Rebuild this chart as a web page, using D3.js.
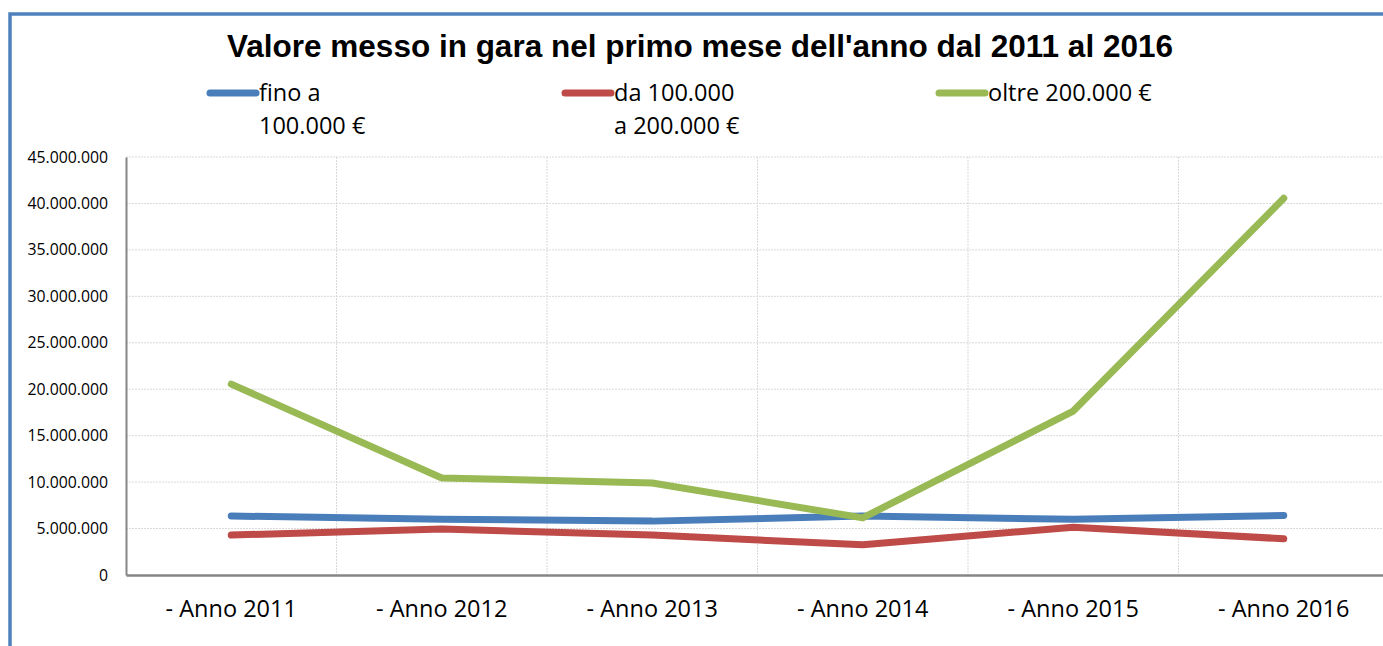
<!DOCTYPE html>
<html>
<head>
<meta charset="utf-8">
<script src="https://cdn.jsdelivr.net/npm/d3@7"></script>
<style>
  html, body { margin: 0; padding: 0; background: #fff; overflow: hidden; }
  svg { display: block; }
</style>
</head>
<body>
<svg id="chart" width="1383" height="646"></svg>
<script>
// ---- Data ----
const categories = ["- Anno 2011", "- Anno 2012", "- Anno 2013", "- Anno 2014", "- Anno 2015", "- Anno 2016"];
const finoA100 = [6350000, 6000000, 5800000, 6350000, 6000000, 6400000];
const da100a200 = [4300000, 4950000, 4300000, 3250000, 5150000, 3900000];
const oltre200 = [20550000, 10450000, 9900000, 6150000, 17650000, 40550000];
const yTicks = [0, 5000000, 10000000, 15000000, 20000000, 25000000, 30000000, 35000000, 40000000, 45000000];

const series = [
  { name: ["fino a", "100.000 €"], values: finoA100, color: "#4A7EBB", lx: 208 },
  { name: ["da 100.000", "a 200.000 €"], values: da100a200, color: "#BE4B48", lx: 563 },
  { name: ["oltre 200.000 €"], values: oltre200, color: "#98B954", lx: 937 },
];

const svg = d3.select("#chart");
const W = 1383, H = 646;
const plot = { left: 126, right: 1389, top: 157, bottom: 575 };

// ---- Chart border (runs off the right/bottom edge) ----
svg.append("rect")
  .attr("x", 10).attr("y", 14)
  .attr("width", 1400).attr("height", 700)
  .attr("fill", "none")
  .attr("stroke", "#4F81BD")
  .attr("stroke-width", 3.5);

// ---- Title ----
svg.append("text")
  .attr("x", 700).attr("y", 57)
  .attr("text-anchor", "middle")
  .attr("font-family", "'Liberation Sans', Arial, sans-serif")
  .attr("font-weight", "bold")
  .attr("font-size", 31.5)
  .text("Valore messo in gara nel primo mese dell'anno dal 2011 al 2016");

// ---- Scales ----
const x = d3.scaleBand()
  .domain(categories)
  .range([plot.left, plot.right]);

const y = d3.scaleLinear()
  .domain([0, 45000000])
  .range([plot.bottom, plot.top]);

const fmt = v => d3.format(",")(v).replace(/,/g, ".");

// ---- Gridlines ----
const g = svg.append("g");
g.selectAll("line.hgrid")
  .data(yTicks.filter(d => d > 0))
  .join("line")
  .attr("class", "hgrid")
  .attr("x1", plot.left).attr("x2", W)
  .attr("y1", d => y(d)).attr("y2", d => y(d))
  .attr("stroke", "#D9D9D9")
  .attr("stroke-width", 1)
  .attr("stroke-dasharray", "2,1");

g.selectAll("line.vgrid")
  .data(categories.slice(1))
  .join("line")
  .attr("class", "vgrid")
  .attr("x1", d => x(d)).attr("x2", d => x(d))
  .attr("y1", plot.top).attr("y2", plot.bottom)
  .attr("stroke", "#D9D9D9")
  .attr("stroke-width", 1)
  .attr("stroke-dasharray", "2,1");

// ---- Axes ----
const yAxis = svg.append("g")
  .attr("transform", `translate(${plot.left},0)`)
  .call(d3.axisLeft(y).tickValues(yTicks).tickFormat(fmt).tickSize(0).tickPadding(18));
yAxis.select(".domain").attr("stroke", "#868686").attr("stroke-width", 2);
yAxis.selectAll("text")
  .attr("font-family", "'Open Sans', sans-serif")
  .attr("font-size", 15.8)
  .attr("fill", "#000");

const xAxis = svg.append("g")
  .attr("transform", `translate(0,${plot.bottom})`)
  .call(d3.axisBottom(x).tickSize(0).tickPadding(25));
xAxis.select(".domain").attr("stroke", "#868686").attr("stroke-width", 2.5);
xAxis.selectAll("text")
  .attr("font-family", "'Open Sans', sans-serif")
  .attr("font-size", 23.5)
  .attr("fill", "#000");

// ---- Lines ----
const line = d3.line()
  .x((d, i) => x(categories[i]) + x.bandwidth() / 2)
  .y(d => y(d));

svg.selectAll("path.series")
  .data(series)
  .join("path")
  .attr("class", "series")
  .attr("d", d => line(d.values))
  .attr("fill", "none")
  .attr("stroke", d => d.color)
  .attr("stroke-width", 7)
  .attr("stroke-linecap", "round")
  .attr("stroke-linejoin", "round");

// ---- Legend ----
const legend = svg.selectAll("g.legend")
  .data(series)
  .join("g")
  .attr("class", "legend");

legend.append("line")
  .attr("x1", d => d.lx + 2).attr("x2", d => d.lx + 48)
  .attr("y1", 93).attr("y2", 93)
  .attr("stroke", d => d.color)
  .attr("stroke-width", 7)
  .attr("stroke-linecap", "round");

legend.append("text")
  .attr("x", d => d.lx + 51)
  .attr("y", 101)
  .attr("font-family", "'Open Sans', sans-serif")
  .attr("font-size", 23.5)
  .attr("fill", "#000")
  .selectAll("tspan")
  .data(d => d.name.map(n => ({ n, x: d.lx + 51 })))
  .join("tspan")
  .attr("x", t => t.x)
  .attr("dy", (t, i) => i === 0 ? 0 : 33)
  .text(t => t.n);
</script>
</body>
</html>
